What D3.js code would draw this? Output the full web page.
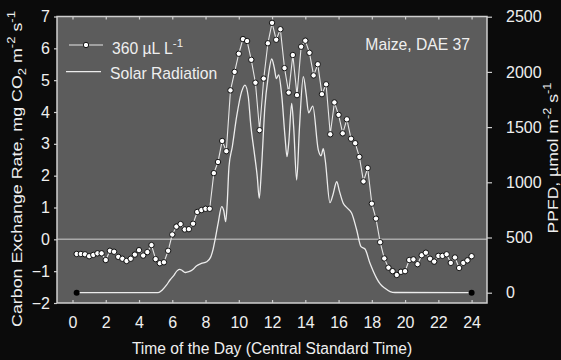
<!DOCTYPE html>
<html>
<head>
<meta charset="utf-8">
<script src="https://cdn.jsdelivr.net/npm/d3@7"></script>
<style>
  body { margin: 0; background: #0b0b0b; }
  text { font-family: "Liberation Sans", Arial, sans-serif; fill: #efefef; }
</style>
</head>
<body>
<div class="chart"></div>
<script>
// CER, 15 minute readings from 00:15 to 24:00
const cerHours = d3.range(1, 97).map(i => i / 4);
const cerValues = [
  -0.46, -0.46, -0.47, -0.53, -0.49, -0.44, -0.44, -0.65,
  -0.36, -0.39, -0.55, -0.61, -0.68, -0.61, -0.48, -0.34,
  -0.51, -0.40, -0.18, -0.62, -0.75, -0.72, -0.36, 0.15,
  0.40, 0.48, 0.31, 0.32, 0.49, 0.86, 0.92, 0.96,
  0.96, 2.08, 2.43, 3.09, 2.77, 4.68, 5.26, 5.83,
  6.29, 6.23, 5.64, 4.92, 3.43, 5.05, 6.16, 6.80,
  6.27, 6.60, 5.38, 4.61, 5.79, 4.53, 6.05, 6.24,
  5.86, 5.15, 5.50, 4.56, 4.87, 3.30, 4.30, 3.91,
  3.33, 3.77, 3.16, 3.02, 2.59, 1.82, 2.24, 1.12,
  0.65, -0.09, -0.60, -0.89, -1.00, -1.12, -1.02, -1.00,
  -0.65, -0.63, -0.78, -0.50, -0.42, -0.61, -0.70, -0.52,
  -0.52, -0.47, -0.74, -0.57, -0.90, -0.74, -0.66, -0.53
];

// solar radiation (PPFD)
const solarHours = [
  0.25, 5.15, 5.4, 5.66, 5.86, 6.06, 6.3, 6.45, 6.6, 6.8, 7.0, 7.2, 7.47, 7.75,
  8.07, 8.3, 8.45, 8.57, 8.77, 8.97, 9.1, 9.21, 9.3, 9.41, 9.61, 9.87, 10.17,
  10.37, 10.57, 10.73, 10.91, 11.11, 11.23, 11.37, 11.57, 11.77, 11.98, 12.14,
  12.26, 12.4, 12.58, 12.78, 12.9, 13.0, 13.18, 13.3, 13.48, 13.65, 13.88, 14.05,
  14.2, 14.45, 14.78, 14.95, 15.08, 15.2, 15.48, 15.65, 15.89, 16.05, 16.28,
  16.5, 16.79, 17.09, 17.35, 17.59, 17.89, 18.1, 18.29, 18.5, 18.79, 19.1,
  19.4, 24
];
const solarValues = [
  0, 0, 25, 70, 115, 150, 200, 212, 200, 183, 190, 205, 245, 265,
  281, 320, 390, 477, 640, 780, 740, 643, 800, 1141, 1322, 1594, 1821,
  1881, 1775, 1504, 1293, 1051, 855, 1141, 1685, 1957, 2117, 2033,
  1940, 1972, 1790, 1413, 1232, 1350, 1715, 1500, 1021, 1500, 1957, 1800,
  1630, 1690, 1293, 1240, 1305, 1200, 815, 880, 1005, 920, 810,
  770, 719, 568, 417, 396, 266, 190, 130, 80, 40, 10,
  2, 0
];

const hourTicks = d3.range(0, 25, 2);
const cerTicks = d3.range(-2, 8);
const ppfdTicks = d3.range(0, 2501, 500);

const width = 561, height = 360;
const plot = {left: 57, right: 487, top: 16.5, bottom: 303};

const svg = d3.select(".chart").append("svg")
    .attr("width", width)
    .attr("height", height);

svg.append("rect")
    .attr("width", width).attr("height", height)
    .attr("fill", "#0b0b0b");

const xScale = d3.scaleLinear().domain([0, 24]).range([72.5, 471.6]);
const yScale = d3.scaleLinear().domain([-2, 7]).range([plot.bottom, plot.top]);
const y2Scale = d3.scaleLinear().domain([0, 2500]).range([292.7, 16.7]);

// plot background
svg.append("rect")
    .attr("x", plot.left).attr("y", plot.top)
    .attr("width", plot.right - plot.left)
    .attr("height", plot.bottom - plot.top)
    .attr("fill", "#5c5c5c");

// zero line
svg.append("line")
    .attr("x1", plot.left).attr("x2", plot.right)
    .attr("y1", yScale(0)).attr("y2", yScale(0))
    .attr("stroke", "#a9a9a9")
    .attr("stroke-width", 1.5);

// axes
const xAxisG = svg.append("g")
    .attr("transform", "translate(0," + plot.bottom + ")")
    .call(d3.axisBottom(xScale).tickValues(hourTicks).tickSizeInner(-3).tickSizeOuter(0).tickPadding(14));

const xTopG = svg.append("g")
    .attr("transform", "translate(0," + plot.top + ")")
    .call(d3.axisTop(xScale).tickValues(hourTicks).tickSizeInner(-3).tickSizeOuter(0).tickFormat(""));

const yAxisG = svg.append("g")
    .attr("transform", "translate(" + plot.left + ",0)")
    .call(d3.axisLeft(yScale).tickValues(cerTicks).tickSizeInner(3).tickSizeOuter(0).tickPadding(4));

const y2AxisG = svg.append("g")
    .attr("transform", "translate(" + plot.right + ",0)")
    .call(d3.axisRight(y2Scale).tickValues(ppfdTicks).tickFormat(d3.format("d"))
        .tickSizeInner(5).tickSizeOuter(0).tickPadding(14));

[xAxisG, xTopG, yAxisG, y2AxisG].forEach(g => {
    g.select(".domain").remove();
    g.selectAll("line").attr("stroke", "#cfcfcf").attr("stroke-width", 1.2);
    g.selectAll("text")
        .attr("fill", "#efefef")
        .style("font-size", "16px")
        .style("font-family", "'Liberation Sans', Arial, sans-serif");
});

// frame
svg.append("rect")
    .attr("x", plot.left).attr("y", plot.top)
    .attr("width", plot.right - plot.left)
    .attr("height", plot.bottom - plot.top)
    .attr("fill", "none")
    .attr("stroke", "#cfcfcf")
    .attr("stroke-width", 1.5);

// solar radiation line
const solar = solarHours.map((h, i) => ({h: h, v: solarValues[i]}));
svg.append("path")
    .datum(solar)
    .attr("fill", "none")
    .attr("stroke", "#ececec")
    .attr("stroke-width", 1.3)
    .attr("d", d3.line().x(d => xScale(d.h)).y(d => y2Scale(d.v)).curve(d3.curveMonotoneX));

svg.selectAll(".solarEnd")
    .data([solar[0], solar[solar.length - 1]])
    .enter().append("circle")
    .attr("class", "solarEnd")
    .attr("cx", d => xScale(d.h))
    .attr("cy", d => y2Scale(d.v))
    .attr("r", 3)
    .attr("fill", "#000");

// CER line with markers
const cer = cerHours.map((h, i) => ({h: h, v: cerValues[i]}));
svg.append("path")
    .datum(cer)
    .attr("fill", "none")
    .attr("stroke", "#e6e6e6")
    .attr("stroke-width", 1.1)
    .attr("d", d3.line().x(d => xScale(d.h)).y(d => yScale(d.v)));

svg.selectAll(".dot")
    .data(cer)
    .enter().append("circle")
    .attr("class", "dot")
    .attr("cx", d => xScale(d.h))
    .attr("cy", d => yScale(d.v))
    .attr("r", 2.7)
    .attr("fill", "#fff")
    .attr("stroke", "#000")
    .attr("stroke-width", 0.9);

// legend
svg.append("line")
    .attr("x1", 69).attr("x2", 103).attr("y1", 45).attr("y2", 45)
    .attr("stroke", "#e6e6e6").attr("stroke-width", 1.1);
svg.append("circle")
    .attr("cx", 86).attr("cy", 45).attr("r", 2.7)
    .attr("fill", "#fff").attr("stroke", "#000").attr("stroke-width", 0.9);
const leg1 = svg.append("text")
    .attr("x", 112).attr("y", 53.5)
    .style("font-size", "15.7px");
leg1.append("tspan").text("360 µL L");
leg1.append("tspan").attr("dy", -7).style("font-size", "11.5px").text("-1");

svg.append("line")
    .attr("x1", 66).attr("x2", 101).attr("y1", 71.7).attr("y2", 71.7)
    .attr("stroke", "#ececec").attr("stroke-width", 1.3);
svg.append("text")
    .attr("x", 110).attr("y", 78.5)
    .style("font-size", "15.7px")
    .text("Solar Radiation");

svg.append("text")
    .attr("x", 470).attr("y", 50)
    .attr("text-anchor", "end")
    .style("font-size", "15.7px")
    .text("Maize, DAE 37");

// axis titles
svg.append("text")
    .attr("x", 272).attr("y", 354)
    .attr("text-anchor", "middle")
    .style("font-size", "15.6px")
    .text("Time of the Day (Central Standard Time)");

// the side titles are drawn stretched along their length, as in the original figure
const yLabel = svg.append("text")
    .attr("transform", "translate(21.5,169) rotate(-90) scale(1.19,1)")
    .attr("text-anchor", "middle")
    .style("font-size", "15px");
yLabel.append("tspan").text("Carbon Exchange Rate, mg CO");
yLabel.append("tspan").attr("dy", 4).style("font-size", "11px").text("2");
yLabel.append("tspan").attr("dy", -4).text(" m");
yLabel.append("tspan").attr("dy", -7).style("font-size", "11px").text("-2");
yLabel.append("tspan").attr("dy", 7).text(" s");
yLabel.append("tspan").attr("dy", -7).style("font-size", "11px").text("-1");

const y2Label = svg.append("text")
    .attr("transform", "translate(557.5,158) rotate(-90) scale(1.17,1)")
    .attr("text-anchor", "middle")
    .style("font-size", "15px");
y2Label.append("tspan").text("PPFD, µmol m");
y2Label.append("tspan").attr("dy", -7).style("font-size", "11px").text("-2");
y2Label.append("tspan").attr("dy", 7).text(" s");
y2Label.append("tspan").attr("dy", -7).style("font-size", "11px").text("-1");
</script>
</body>
</html>
